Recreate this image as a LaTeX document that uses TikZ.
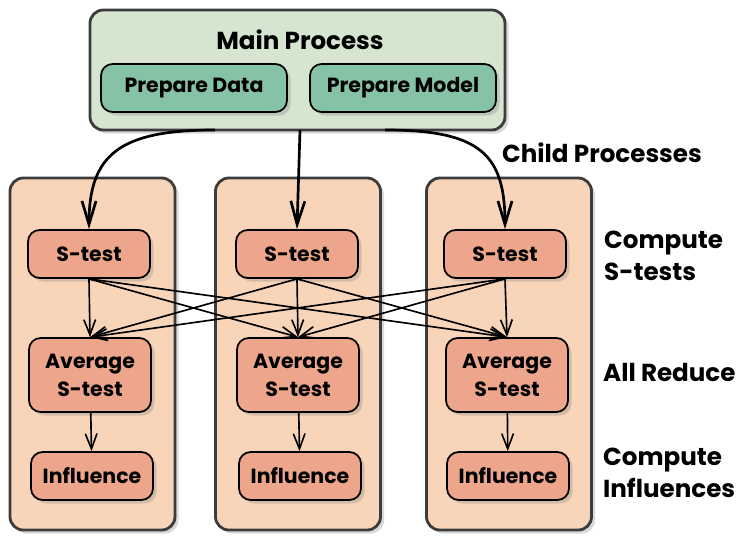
\documentclass[tikz,border=0pt]{standalone}
\usepackage{fontspec}
\setmainfont{Poppins}
\usetikzlibrary{arrows.meta,shadows,positioning}
\definecolor{mainfill}{HTML}{D5E5D0}
\definecolor{prepfill}{HTML}{86C2A5}
\definecolor{colfill}{HTML}{F8D5B9}
\definecolor{taskfill}{HTML}{EDA68C}
\definecolor{framegray}{HTML}{3C3C3C}
\tikzset{
  shadowed/.style={drop shadow={opacity=0.3,shadow xshift=3pt,shadow yshift=-3pt}},
  outerbox/.style={draw=framegray,line width=2.4pt,rounded corners=0.4cm,shadowed},
  taskbox/.style={draw=black,line width=1.5pt,rounded corners=0.35cm,shadowed,
    minimum width=3.66cm,align=center,font=\bfseries\fontsize{17.5}{24}\selectfont},
  prepbox/.style={taskbox,fill=prepfill,minimum width=5.58cm,minimum height=1.44cm},
  stestbox/.style={taskbox,fill=taskfill,minimum height=1.44cm},
  avgbox/.style={taskbox,fill=taskfill,minimum height=2.22cm},
  stagelabel/.style={anchor=west,align=left,font=\bfseries\fontsize{21}{27.5}\selectfont},
  bigarrow/.style={line width=2.3pt,-{Straight Barb[length=20pt,width=12pt,line width=2.3pt]}},
  smallarrow/.style={line width=1.4pt,-{Straight Barb[length=13pt,width=10pt,line width=1.4pt]}}
}
\begin{document}
\begin{tikzpicture}[x=0.03cm,y=-0.03cm]
\useasboundingbox (0,0) rectangle (747,555);

\node[outerbox,fill=mainfill,minimum width=12.45cm,minimum height=3.6cm] (main) at (297.5,70) {};
\node[font=\bfseries\fontsize{21}{24}\selectfont] (maintitle) at (300,40) {Main Process};
\node[prepbox] (data) at (194,88) {Prepare Data};
\node[prepbox] (model) at (403,88) {Prepare Model};

\foreach \i/\x in {1/92.5,2/298,3/509}
  \node[outerbox,fill=colfill,minimum width=4.95cm,minimum height=10.56cm] (col\i) at (\x,354) {};

\node[stestbox] (stest1) at (89,254) {S-test};
\node[stestbox] (stest2) at (297,254) {S-test};
\node[stestbox] (stest3) at (505,254) {S-test};
\node[avgbox] (avg1) at (90,375) {Average\\S-test};
\node[avgbox] (avg2) at (298,375) {Average\\S-test};
\node[avgbox] (avg3) at (507,375) {Average\\S-test};
\node[stestbox] (infl1) at (92,476) {Influence};
\node[stestbox] (infl2) at (300,476) {Influence};
\node[stestbox] (infl3) at (508,476) {Influence};

\node[font=\bfseries\fontsize{21}{24}\selectfont] (child) at (602,153) {Child Processes};
\node[stagelabel] (lstest) at (600,256) {Compute\\S-tests};
\node[stagelabel] (lreduce) at (599,372) {All Reduce};
\node[stagelabel] (linfl) at (599,473) {Compute\\Influences};

\coordinate (out1) at (215,130);
\coordinate (out2) at (300,130);
\coordinate (out3) at (385,130);
\draw[bigarrow] (out1) .. controls +(-95,0) and +(0,-75) .. (stest1.north);
\draw[bigarrow] (out2) -- (stest2.north);
\draw[bigarrow] (out3) .. controls +(95,0) and +(0,-75) .. (stest3.north);

\foreach \i in {1,2,3}
  \foreach \j in {1,2,3}
    \draw[smallarrow] (stest\i.south) -- (avg\j.north);
\foreach \i in {1,2,3}
  \draw[smallarrow] (avg\i) -- (infl\i);
\end{tikzpicture}
\end{document}
